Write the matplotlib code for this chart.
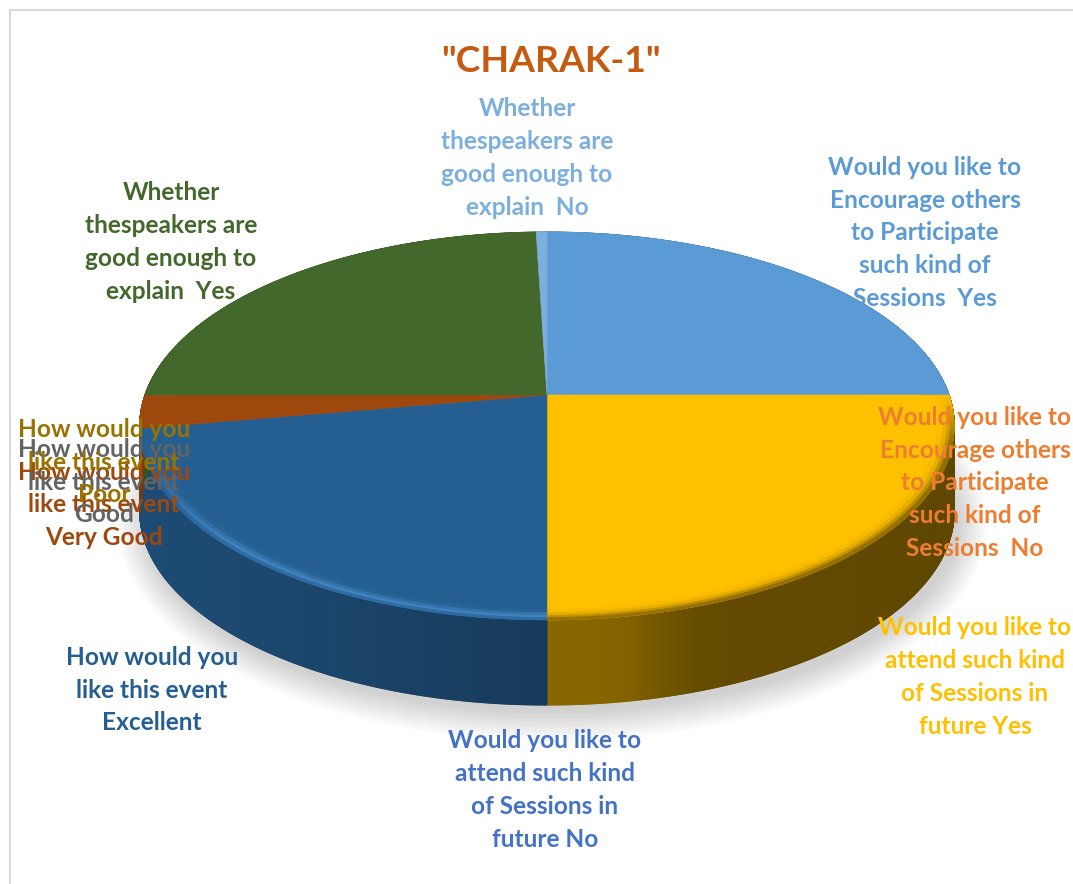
import numpy as np
import matplotlib
matplotlib.use('Agg')
import matplotlib.pyplot as plt
from matplotlib.collections import PolyCollection
from matplotlib.colors import to_rgb
from matplotlib.patches import Ellipse

title = '"CHARAK-1"'

categorias = [
    'Would you like to\nEncourage others\nto Participate\nsuch kind of\nSessions  Yes',
    'Would you like to\nEncourage others\nto Participate\nsuch kind of\nSessions  No',
    'Would you like to\nattend such kind\nof Sessions in\nfuture Yes',
    'Would you like to\nattend such kind\nof Sessions in\nfuture No',
    'How would you\nlike this event\nExcellent',
    'How would you\nlike this event\nVery Good',
    'How would you\nlike this event\nGood',
    'How would you\nlike this event\nPoor',
    'Whether\nthespeakers are\ngood enough to\nexplain  Yes',
    'Whether\nthespeakers are\ngood enough to\nexplain  No',
]
valores = [100, 0, 100, 0, 89, 11, 0, 0, 98, 2]
colores_top = ['#5b9bd5', '#ed7d31', '#ffc000', '#4472c4', '#255e91',
               '#9e480e', '#636363', '#997300', '#43682b', '#7cafdd']

# donde va cada etiqueta (centro del bloque de texto, en pixeles)
etiqueta_x = [925, 975, 975, 545, 152, 104, 104, 104, 171, 527]
etiqueta_y = [233, 483, 677, 790, 690, 505, 482, 462, 242, 158]

ANCHO, ALTO = 1073, 884
CX, CY = 547, 395
RX, RY, K = 402, 189, 0.16
FONDO = 85


def proyecta(ang, r=1.0):
    u = r * np.cos(ang)
    v = r * np.sin(ang)
    w = 1 + K * v
    return CX + RX * u / w, CY - RY * v / w


def oscurece(color, f):
    return tuple(min(1, c * f) for c in to_rgb(color))


def mezcla(a, b, t):
    a = np.array(to_rgb(a))
    b = np.array(to_rgb(b))
    return tuple(a + (b - a) * t)


def factor_pared(x, color):
    # la cara lateral se oscurece hacia los lados
    if color == '#ffc000':
        return np.interp(x, [547, 620, 700, 960], [0.54, 0.52, 0.39, 0.37])
    return np.interp(x, [130, 220, 400, 547], [0.80, 0.78, 0.70, 0.62])


fig = plt.figure(figsize=(ANCHO / 100, ALTO / 100), dpi=100)
ax = fig.add_axes([0, 0, 1, 1])
ax.set_xlim(0, ANCHO)
ax.set_ylim(ALTO, 0)
ax.axis('off')

# marco del grafico
ax.plot([10, 10, 1073], [884, 10, 10], color='#d9d9d9', lw=1.5, zorder=1)

# sombra
for i in range(16):
    ax.add_patch(Ellipse((552, 523), 2 * (409 + 26 - i * 2), 2 * (194 + 24 - i * 2),
                         color='#808080', alpha=0.022, lw=0, zorder=2))

# limites de cada sector, en sentido horario desde arriba
angulos = np.pi / 2 - 2 * np.pi * np.cumsum([0] + valores) / sum(valores)

paredes, colores_pared = [], []
sectores, colores_sector = [], []
bordes, colores_borde = [], []
bandas = [0.93, 0.945, 0.96, 0.972, 0.982, 0.99, 1.0]

for i, valor in enumerate(valores):
    if valor == 0:
        continue
    color = colores_top[i]
    pasos = np.linspace(angulos[i], angulos[i + 1], max(4, int(valor * 6)))
    for a, b in zip(pasos[:-1], pasos[1:]):
        xa, ya = proyecta(a)
        xb, yb = proyecta(b)
        paredes.append([(xa, ya), (xb, yb), (xb, yb + FONDO), (xa, ya + FONDO)])
        colores_pared.append(oscurece(color, factor_pared((xa + xb) / 2, color)))
        seno = -np.sin((a + b) / 2)
        for j in range(len(bandas) - 1):
            xa0, ya0 = proyecta(a, bandas[j])
            xb0, yb0 = proyecta(b, bandas[j])
            xa1, ya1 = proyecta(a, bandas[j + 1])
            xb1, yb1 = proyecta(b, bandas[j + 1])
            if color == '#ffc000':
                t = [0.0, 0.0, 0.05, 0.2, 0.5, 0.85][j] * np.clip(seno * 4, 0, 1)
                c = mezcla(color, oscurece(color, 0.5), t)
            else:
                t = [0.0, 0.0, 0.12, 0.45, 0.8, 0.3][j] * np.clip((seno - 0.25) * 2.2, 0, 1)
                c = mezcla(color, '#4a90cf', t)
            bordes.append([(xa0, ya0), (xb0, yb0), (xb1, yb1), (xa1, ya1)])
            colores_borde.append(c)
    xs, ys = proyecta(pasos)
    sectores.append([(CX, CY)] + list(zip(xs, ys)))
    colores_sector.append(color)

ax.add_collection(PolyCollection(paredes, facecolors=colores_pared, edgecolors=colores_pared,
                                 linewidths=0.8, zorder=3))
ax.add_collection(PolyCollection(sectores, facecolors=colores_sector, edgecolors=colores_sector,
                                 linewidths=0.4, zorder=4))
ax.add_collection(PolyCollection(bordes, facecolors=colores_borde, edgecolors=colores_borde,
                                 linewidths=0.3, zorder=5))

for i in range(len(categorias)):
    ax.text(etiqueta_x[i], etiqueta_y[i], categorias[i], color=colores_top[i], family='Lato',
            fontweight='bold', fontsize=17.6, ha='center', va='center', ma='center',
            linespacing=1.51, zorder=6 + i)

ax.text(551, 61, title, color='#c55a11', family='Lato', fontweight='bold', fontsize=26.8,
        ha='center', va='center', zorder=20)

fig.savefig('out.png', dpi=100)
